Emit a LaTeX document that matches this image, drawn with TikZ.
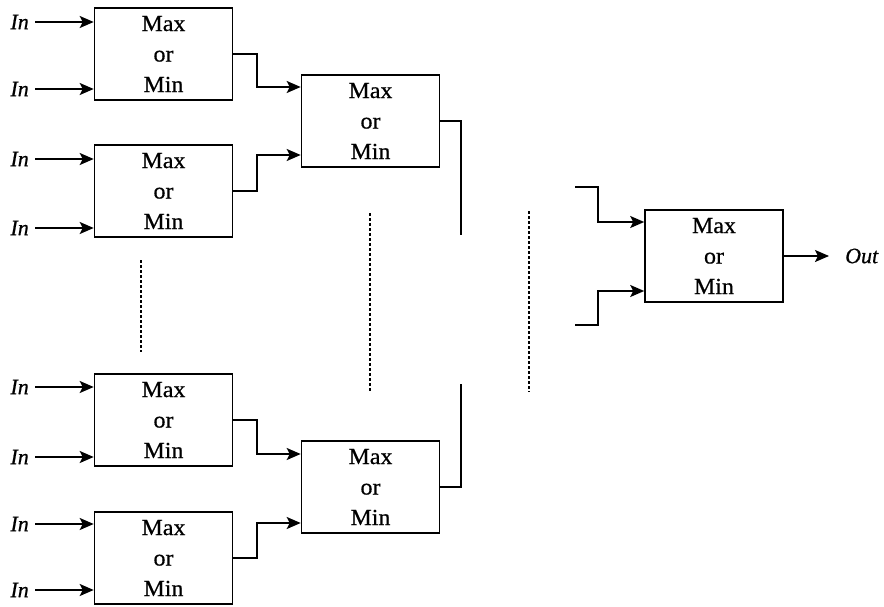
\documentclass[tikz,border=0pt]{standalone}
\usepackage{fontspec}
\setmainfont{Liberation Serif}
\newfontfamily\boxfont[FakeStretch=1.04,FakeBold=0.6]{Liberation Serif}
\newfontfamily\labfont[FakeBold=0.6]{Liberation Serif}
\usetikzlibrary{arrows.meta}
\tikzset{
  blk/.style={draw, line width=1.6pt, minimum width=138pt, minimum height=92pt,
    inner sep=0pt, align=center, font=\boxfont\fontsize{23}{30.5}\selectfont},
  inlab/.style={inner sep=0pt, anchor=east, font=\labfont\itshape\fontsize{22}{24}\selectfont},
  outlab/.style={inner sep=0pt, anchor=west, font=\labfont\itshape\fontsize{22}{24}\selectfont},
  arr/.style={line width=1.8pt, -{Stealth[length=14pt,width=12pt,inset=3pt]}},
  wire/.style={line width=1.8pt},
  gap/.style={line width=1.3pt, dash pattern=on 3pt off 2pt}
}
\begin{document}
\begin{tikzpicture}[x=1pt, y=-1pt]
\useasboundingbox (0,0) rectangle (884,607);
\fill[white] (0,0) rectangle (884,607);

% first stage
\node[blk] (b1) at (163.5,54) {Max\\or\\Min};
\node[blk] (b2) at (163.5,191) {Max\\or\\Min};
\node[blk] (b3) at (163.5,420) {Max\\or\\Min};
\node[blk] (b4) at (163.5,558) {Max\\or\\Min};
% second stage
\node[blk] (b5) at (370.5,121) {Max\\or\\Min};
\node[blk] (b6) at (370.5,487) {Max\\or\\Min};
% final stage
\node[blk] (b7) at (714,256) {Max\\or\\Min};

% inputs
\foreach \n/\y/\b in {1/22/b1, 2/89/b1, 3/159/b2, 4/228/b2,
                      5/387/b3, 6/457/b3, 7/524/b4, 8/590/b4} {
  \node[inlab] (i\n) at (29,\y) {In};
  \draw[arr] ([xshift=6pt]i\n.east) -- (\b.west |- i\n);
}

% stage 1 -> stage 2
\draw[arr] (b1.east) -- ++(24,0) |- (b5.west |- 0,87);
\draw[arr] (b2.east) -- ++(24,0) |- (b5.west |- 0,155);
\draw[arr] (b3.east) -- ++(24,0) |- (b6.west |- 0,454);
\draw[arr] (b4.east) -- ++(24,0) |- (b6.west |- 0,523);

% stage 2 outputs, continuing off towards the final stage
\coordinate (t5) at (461,235);
\coordinate (t6) at (461,384);
\draw[wire] (b5.east) -| (t5);
\draw[wire] (b6.east) -| (t6);

% inputs of the final stage
\coordinate (s1) at (575,187);
\coordinate (s2) at (575,325);
\draw[arr] (s1) -- (598,187) |- (b7.west |- 0,222);
\draw[arr] (s2) -- (598,325) |- (b7.west |- 0,291);

% output
\node[outlab] (out) at (845,256) {Out};
\draw[arr, shorten >=16pt] (b7.east) -- (out.west);

% omitted stages
\coordinate (d1a) at (141,260); \coordinate (d1b) at (141,352);
\coordinate (d2a) at (370,213); \coordinate (d2b) at (370,392);
\coordinate (d3a) at (529,211); \coordinate (d3b) at (529,392);
\draw[gap] (d1a) -- (d1b);
\draw[gap] (d2a) -- (d2b);
\draw[gap] (d3a) -- (d3b);
\end{tikzpicture}
\end{document}
